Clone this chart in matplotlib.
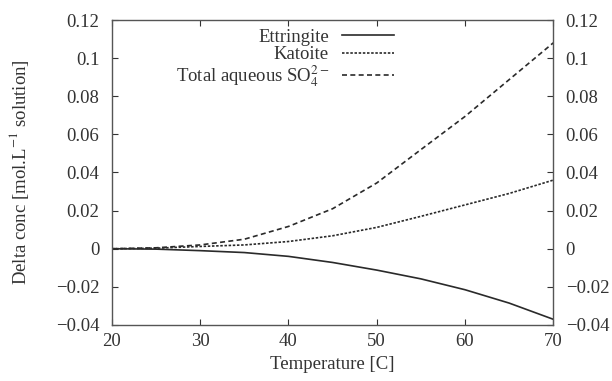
import matplotlib
matplotlib.use('Agg')
import matplotlib.pyplot as plt
import numpy as np

# data
temperature = [20, 25, 30, 35, 40, 45, 50, 55, 60, 65, 70]
ettringite = [0.0, -0.0002, -0.001, -0.002, -0.004, -0.0072, -0.0112, -0.0158, -0.0215, -0.0285, -0.037]
katoite = [0.0, 0.0003, 0.0012, 0.002, 0.0038, 0.0068, 0.0112, 0.017, 0.023, 0.029, 0.036]
total_so4 = [0.0, 0.0005, 0.002, 0.005, 0.0117, 0.021, 0.0345, 0.052, 0.0694, 0.0887, 0.108]

xticks = [20, 30, 40, 50, 60, 70]
yticks = [-0.04, -0.02, 0, 0.02, 0.04, 0.06, 0.08, 0.1, 0.12]
ytick_labels = ['\u22120.04', '\u22120.02', '0', '0.02', '0.04', '0.06', '0.08', '0.1', '0.12']


def main():
    plt.rcParams['font.family'] = ['Liberation Serif', 'DejaVu Serif']
    plt.rcParams['mathtext.fontset'] = 'stix'

    fig = plt.figure(figsize=(6.12, 3.81), dpi=100)
    ax = fig.add_axes([0.183, 0.147, 0.721, 0.8005])

    col = '#2a2a2a'
    fs = 13.5
    ax.plot(temperature, ettringite, color=col, lw=1.2, ls='-', label='Ettringite')
    ax.plot(temperature, katoite, color=col, lw=1.2, ls=(0, (1.5, 1.0)), label='Katoite')
    ax.plot(temperature, total_so4, color=col, lw=1.2, ls=(0, (3, 2)),
            label='Total aqueous SO$_4^{2-}$')

    ax.set_xlim(20, 70)
    ax.set_ylim(-0.04, 0.12)
    ax.set_xticks(xticks)
    ax.set_yticks(yticks)
    ax.set_yticklabels(ytick_labels)
    ax.tick_params(direction='in', top=True, right=True, labelright=True,
                   labelsize=fs, length=4, colors='#333333')
    ax.tick_params(axis='y', which='both', pad=9)
    ax.tick_params(axis='x', pad=6)
    for s in ax.spines.values():
        s.set_color('#555555')
        s.set_linewidth(1.0)

    ax.set_xlabel('Temperature [C]', fontsize=fs, color='#333333', labelpad=4)
    ax.set_ylabel('Delta conc [mol.L$^{-1}$ solution]', fontsize=fs, color='#333333', labelpad=18)

    leg = ax.legend(loc='upper center', bbox_to_anchor=(0.392, 1.02), frameon=False,
                    markerfirst=False, fontsize=fs, handlelength=2.8,
                    labelspacing=0.0, borderpad=0.3, handletextpad=0.7)
    for t in leg.get_texts():
        t.set_ha('right')
        t.set_color('#333333')

    fig.savefig('out.png', dpi=100)


if __name__ == '__main__':
    main()
